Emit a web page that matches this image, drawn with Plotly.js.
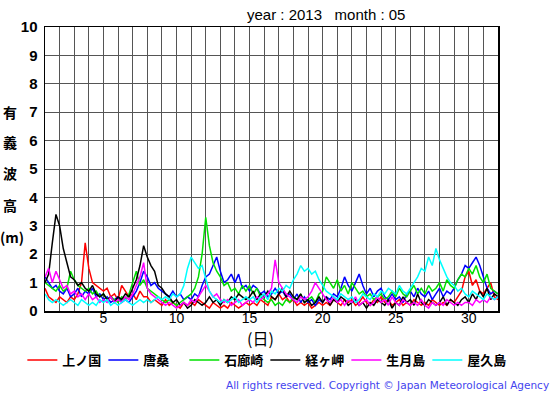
<!DOCTYPE html>
<html>
<head>
<meta charset="utf-8">
<script src="https://cdn.plot.ly/plotly-3.0.1.min.js"></script>
<style>
html,body{margin:0;padding:0;background:#fff;}
#chart{width:555px;height:395px;}
</style>
</head>
<body>
<div id="chart"></div>
<script>
// 6-hourly significant wave height (m), May 2013, day 1.00 .. 32.00
const stations = ["上ノ国", "唐桑", "石廊崎", "経ヶ岬", "生月島", "屋久島"];
const colors = ["#ff0000", "#0000ff", "#00e000", "#000000", "#ff00ff", "#00ffff"];
const stepsPerDay = 4;

const kaminokuni = [
0.8,0.5,0.4,0.3, 0.5,0.4,0.3,0.5, 0.4,0.6,1.0,2.4, 1.5,1.0,0.9,0.8,
0.7,0.8,0.5,0.6, 0.4,0.9,0.7,0.5, 0.6,0.4,0.7,0.5, 0.5,0.3,0.4,0.3,
0.2,0.4,0.2,0.3, 0.2,0.1,0.3,0.2, 0.3,0.2,0.4,0.3, 0.2,0.1,0.3,0.2,
0.1,0.2,0.1,0.3, 0.2,0.1,0.2,0.3, 0.2,0.3,0.2,0.4, 0.3,0.2,0.5,0.4,
0.6,0.4,0.5,0.3, 0.4,0.2,0.3,0.2, 0.3,0.1,0.2,0.3, 0.2,0.3,0.2,0.4,
0.3,0.2,0.4,0.3, 0.4,0.2,0.3,0.5, 0.3,0.2,0.4,0.3, 0.5,0.3,0.4,0.2,
0.3,0.4,0.2,0.3, 0.2,0.4,0.3,0.2, 0.3,0.2,0.4,0.3, 0.2,0.3,0.2,0.4,
0.3,0.5,0.7,1.2, 1.4,0.9,1.1,0.7, 0.6,0.8,1.0,0.5, 0.4];

const karakuwa = [
1.2,1.0,0.8,0.9, 0.7,0.6,0.8,0.5, 0.6,0.8,0.5,0.7, 0.6,0.8,0.5,0.6,
0.4,0.5,0.3,0.4, 0.5,0.3,0.4,0.3, 0.5,0.7,1.0,1.4, 1.2,0.9,1.0,0.8,
0.7,0.6,0.5,0.7, 0.5,0.6,0.4,0.5, 0.4,0.6,0.5,0.9, 1.2,1.3,1.6,1.9,
1.4,1.0,1.1,1.3, 1.0,1.3,0.8,0.9, 0.7,0.9,0.8,0.6, 0.7,0.5,0.6,0.8,
0.6,0.7,0.5,0.6, 0.4,0.6,0.3,0.5, 0.3,0.4,0.2,0.4, 0.3,0.5,0.4,0.6,
0.5,0.8,1.2,0.9, 0.7,1.0,1.3,0.9, 0.6,0.8,0.5,0.7, 0.8,0.5,0.4,0.6,
0.4,0.5,0.3,0.6, 0.7,0.5,0.8,0.6, 0.5,0.7,0.4,0.6, 0.8,0.5,0.7,0.6,
0.8,1.1,1.3,1.6, 1.5,1.7,1.9,1.6, 1.2,0.8,0.6,0.7, 0.6];

const irouzaki = [
1.0,0.9,0.8,0.7, 0.9,0.7,0.8,1.4, 1.1,0.9,0.8,0.7, 0.8,0.6,0.7,0.5,
0.6,0.4,0.5,0.4, 0.3,0.5,0.4,0.6, 1.0,1.4,0.9,1.1, 0.8,0.7,0.6,0.5,
0.4,0.3,0.4,0.3, 0.2,0.3,0.4,0.5, 0.6,0.8,1.2,2.0, 3.3,2.3,1.7,1.4,
1.2,0.9,1.0,0.7, 0.8,0.6,0.9,0.7, 0.9,0.6,0.8,0.5, 0.4,0.3,0.4,0.2,
0.3,0.2,0.4,0.3, 0.5,0.4,0.6,0.3, 0.4,0.5,0.3,0.6, 0.7,1.2,1.0,0.8,
1.1,0.7,0.9,0.6, 1.0,0.8,0.6,0.7, 0.5,0.6,0.4,0.5, 0.6,0.4,0.5,0.7,
0.5,0.8,0.6,0.5, 0.7,0.9,0.6,0.8, 0.6,0.9,0.7,0.8, 1.0,0.7,1.1,0.9,
0.8,1.1,1.3,1.2, 1.5,1.3,1.6,1.2, 1.0,1.3,0.8,0.7, 0.6];

const kyougamisaki = [
1.0,1.3,2.4,3.4, 3.0,2.2,1.7,1.2, 1.1,0.9,1.0,0.8, 0.7,0.9,0.6,0.5,
0.6,0.4,0.5,0.3, 0.5,0.4,0.6,0.5, 0.8,1.1,1.6,2.3, 1.9,1.6,1.4,0.9,
0.8,0.6,0.5,0.3, 0.4,0.2,0.3,0.1, 0.2,0.4,0.3,0.2, 0.3,0.5,0.3,0.4,
0.2,0.4,0.3,0.5, 0.4,0.6,0.5,0.4, 0.5,0.7,0.4,0.6, 0.5,0.7,0.5,0.4,
0.6,0.8,0.5,0.7, 0.5,0.4,0.6,0.3, 0.4,0.2,0.3,0.5, 0.3,0.5,0.2,0.4,
0.3,0.5,0.4,0.2, 0.3,0.4,0.2,0.3, 0.1,0.3,0.2,0.4, 0.3,0.2,0.4,0.1,
0.3,0.2,0.5,0.3, 0.4,0.2,0.6,0.3, 0.2,0.4,0.3,0.2, 0.3,0.5,0.2,0.4,
0.3,0.2,0.4,0.5, 0.3,0.6,0.4,0.7, 0.5,0.8,0.4,0.6, 0.5];

const ikitsukishima = [
1.2,1.5,1.0,1.4, 1.1,0.8,0.9,0.6, 0.7,0.5,0.6,0.4, 0.6,0.4,0.5,0.3,
0.4,0.3,0.5,0.3, 0.4,0.3,0.5,0.4, 0.6,0.9,1.2,1.7, 0.8,0.6,0.5,0.4,
0.3,0.2,0.3,0.2, 0.1,0.2,0.3,0.2, 0.4,0.3,0.5,0.7, 0.9,0.7,0.5,0.6,
0.4,0.3,0.4,0.2, 0.3,0.4,0.2,0.3, 0.4,0.3,0.5,0.4, 0.5,0.6,0.8,1.8,
1.0,0.8,0.6,0.5, 0.4,0.3,0.5,0.4, 0.5,0.7,1.0,0.8, 0.6,0.4,0.3,0.5,
0.3,0.4,0.2,0.4, 0.3,0.5,0.2,0.3, 0.4,0.2,0.3,0.5, 0.3,0.4,0.2,0.5,
0.3,0.2,0.4,0.3, 0.2,0.3,0.2,0.4, 0.2,0.1,0.3,0.2, 0.3,0.2,0.4,0.3,
0.2,0.3,0.2,0.3, 0.3,0.2,0.4,0.3, 0.4,0.3,0.5,0.4, 0.5];

const yakushima = [
0.6,0.4,0.3,0.4, 0.3,0.2,0.3,0.4, 0.3,0.2,0.4,0.3, 0.2,0.3,0.2,0.4,
0.3,0.4,0.2,0.3, 0.2,0.3,0.4,0.3, 0.2,0.3,0.4,0.3, 0.4,0.3,0.4,0.5,
0.4,0.5,0.4,0.6, 0.5,0.6,0.9,1.5, 1.9,1.7,1.5,1.6, 1.1,0.7,0.5,0.4,
0.3,0.4,0.3,0.4, 0.5,0.3,0.4,0.5, 0.4,0.5,0.3,0.5, 0.6,0.4,0.7,0.6,
0.8,0.7,0.9,0.8, 1.1,1.3,1.6,1.4, 1.5,1.3,1.4,1.1, 0.9,0.7,0.6,0.5,
0.4,0.6,0.5,0.4, 0.5,0.3,0.4,0.6, 0.5,0.4,0.6,0.5, 0.7,0.6,0.8,0.7,
0.6,0.9,0.7,0.6, 0.8,1.0,1.2,1.5, 1.4,1.9,1.6,2.2, 1.8,1.5,1.2,1.0,
0.9,0.7,0.8,0.6, 0.5,0.7,0.6,0.5, 0.4,0.6,0.5,0.4, 0.5];

const series = [kaminokuni, karakuwa, irouzaki, kyougamisaki, ikitsukishima, yakushima];

const dayGrid = [];
for (let d = 1; d <= 32; d++) dayGrid.push(d);
const dayLabels = dayGrid.map(d => (d % 5 === 0 ? String(d) : ""));
const yTicks = [0,1,2,3,4,5,6,7,8,9,10];

const traces = series.map((vals, k) => ({
  type: "scatter",
  mode: "lines",
  name: stations[k],
  x: vals.map((v, i) => 1 + i / stepsPerDay),
  y: vals,
  line: {color: colors[k], width: 1.5},
  hoverinfo: "skip"
}));

const layout = {
  width: 555,
  height: 395,
  margin: {l: 45, r: 57, t: 27, b: 84, pad: 0},
  paper_bgcolor: "#ffffff",
  plot_bgcolor: "#ffffff",
  showlegend: true,
  legend: {
    orientation: "h",
    x: -0.05, xanchor: "left",
    y: -0.12, yanchor: "top",
    entrywidth: 36, entrywidthmode: "pixels",
    itemwidth: 30,
    font: {family: "Noto Sans CJK JP", size: 13, color: "#000", weight: "bold"},
    bgcolor: "rgba(0,0,0,0)",
    tracegroupgap: 0
  },
  xaxis: {
    range: [1, 32],
    tickmode: "array",
    tickvals: dayGrid,
    ticktext: dayLabels,
    ticks: "",
    ticklabelstandoff: -6,
    showgrid: true,
    gridcolor: "#555555",
    gridwidth: 1,
    zeroline: false,
    showline: true,
    linecolor: "#000000",
    linewidth: 1.5,
    mirror: true,
    tickfont: {family: "Liberation Sans, Arial, sans-serif", size: 14, color: "#000"},
    fixedrange: true
  },
  yaxis: {
    range: [0, 10],
    tickmode: "array",
    tickvals: yTicks,
    ticks: "",
    ticklabelstandoff: 3,
    showgrid: true,
    gridcolor: "#555555",
    gridwidth: 1,
    zeroline: false,
    showline: true,
    linecolor: "#000000",
    linewidth: 1.5,
    mirror: true,
    tickfont: {family: "Liberation Sans, Arial, sans-serif", size: 15, color: "#000", weight: "bold"},
    fixedrange: true
  },
  annotations: [
    {text: "year : 2013   month : 05", xref: "paper", yref: "paper", x: 0.62, y: 1, yshift: 13,
     xanchor: "center", yanchor: "middle", showarrow: false,
     font: {family: "Liberation Sans, Arial, sans-serif", size: 15, color: "#000"}},
    {text: "(日)", xref: "paper", yref: "paper", x: 0.475, y: 0, yshift: -27,
     xanchor: "center", yanchor: "middle", showarrow: false,
     font: {family: "Noto Sans CJK JP", size: 16, color: "#000"}},
    {text: "有", xref: "paper", yref: "y", x: 0, xshift: -35, y: 7, xanchor: "center", yanchor: "middle", showarrow: false,
     font: {family: "Noto Sans CJK JP", size: 14, color: "#000", weight: "bold"}},
    {text: "義", xref: "paper", yref: "y", x: 0, xshift: -35, y: 5.95, xanchor: "center", yanchor: "middle", showarrow: false,
     font: {family: "Noto Sans CJK JP", size: 14, color: "#000", weight: "bold"}},
    {text: "波", xref: "paper", yref: "y", x: 0, xshift: -35, y: 4.85, xanchor: "center", yanchor: "middle", showarrow: false,
     font: {family: "Noto Sans CJK JP", size: 14, color: "#000", weight: "bold"}},
    {text: "高", xref: "paper", yref: "y", x: 0, xshift: -35, y: 3.75, xanchor: "center", yanchor: "middle", showarrow: false,
     font: {family: "Noto Sans CJK JP", size: 14, color: "#000", weight: "bold"}},
    {text: "(m)", xref: "paper", yref: "y", x: 0, xshift: -33, y: 2.6, xanchor: "center", yanchor: "middle", showarrow: false,
     font: {family: "Noto Sans CJK JP", size: 14, color: "#000", weight: "bold"}},
    {text: "All rights reserved. Copyright © Japan Meteorological Agency", xref: "paper", yref: "paper",
     x: 1, xshift: 53, y: 0, yshift: -74, xanchor: "right", yanchor: "middle", showarrow: false,
     font: {family: "DejaVu Sans, sans-serif", size: 10.5, color: "#4444ee"}}
  ]
};

Plotly.newPlot("chart", traces, layout, {staticPlot: true, displayModeBar: false});
</script>
</body>
</html>
